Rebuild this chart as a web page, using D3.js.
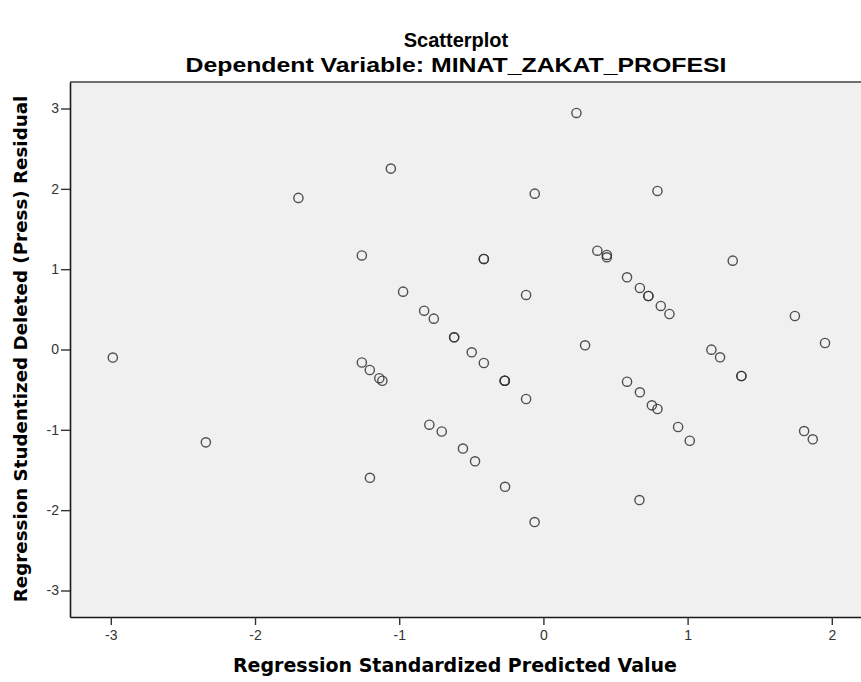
<!DOCTYPE html>
<html>
<head>
<meta charset="utf-8">
<script src="https://cdn.jsdelivr.net/npm/d3@7"></script>
<style>
  body { margin: 0; background: #fff; }
  svg { display: block; }
</style>
</head>
<body>
<div id="chart"></div>
<script>
// predicted (standardized) vs studentized deleted residual
const predicted = [
  -2.986, -2.341, -1.699, -1.058, -1.259, -0.973, -0.827, -0.760,
  -1.259, -1.204, -1.138, -1.117, -0.791, -0.705, -1.203, -0.558,
  -0.474, -0.266, -0.061, -0.060, 0.229, -0.413, -0.413, -0.120,
  0.289, -0.619, -0.619, -0.497, -0.413, -0.268, -0.268, -0.268,
  -0.120, 0.374, 0.440, 0.440, 0.580, 0.669, 0.728, 0.728,
  0.814, 0.874, 0.791, 1.313, 1.744, 1.953, 1.165, 1.225,
  1.373, 1.373, 0.580, 0.669, 0.752, 0.791, 0.934, 1.015,
  1.808, 1.868, 0.666
];
const residual = [
  -0.100, -1.156, 1.887, 2.252, 1.171, 0.720, 0.483, 0.384,
  -0.162, -0.255, -0.357, -0.389, -0.936, -1.021, -1.597, -1.233,
  -1.392, -1.709, -2.148, 1.940, 2.945, 1.127, 1.127, 0.679,
  0.052, 0.152, 0.152, -0.035, -0.168, -0.389, -0.389, -0.389,
  -0.616, 1.230, 1.177, 1.148, 0.899, 0.766, 0.666, 0.666,
  0.542, 0.442, 1.974, 1.106, 0.417, 0.081, -0.002, -0.097,
  -0.330, -0.330, -0.401, -0.533, -0.695, -0.741, -0.965, -1.136,
  -1.015, -1.118, -1.874
];
const xTicks = [-3, -2, -1, 0, 1, 2];
const yTicks = [-3, -2, -1, 0, 1, 2, 3];

const width = 861, height = 682;
const plotLeft = 70, plotRight = 862, plotTop = 82, plotBottom = 617;

const svg = d3.select("#chart").append("svg")
    .attr("width", width)
    .attr("height", height);

const x = d3.scaleLinear().domain([-3.283, 2.2]).range([plotLeft, plotLeft + (2.2 + 3.283) * 144.2]);
const y = d3.scaleLinear().domain([-3.33, 3.33]).range([plotBottom, plotTop]);

// plot background
svg.append("rect")
    .attr("x", plotLeft).attr("y", plotTop)
    .attr("width", plotRight - plotLeft).attr("height", plotBottom - plotTop)
    .attr("fill", "#f0f0f0");

// top frame line
svg.append("line")
    .attr("x1", plotLeft).attr("x2", plotRight)
    .attr("y1", plotTop).attr("y2", plotTop)
    .attr("stroke", "#6e6e6e").attr("stroke-width", 2);

let points = predicted.map((p, i) => ({px: p, r: residual[i]}));

svg.append("g").selectAll("circle")
    .data(points).enter()
    .append("circle")
    .attr("cx", d => x(d.px))
    .attr("cy", d => y(d.r))
    .attr("r", 4.6)
    .attr("fill", "none")
    .attr("stroke", "#333")
    .attr("stroke-opacity", 0.85)
    .attr("stroke-width", 1.4);

const fmt = d => String(d);

const yAxis = svg.append("g")
    .attr("transform", "translate(" + plotLeft + ",0)")
    .call(d3.axisLeft(y).tickValues(yTicks).tickSize(9).tickSizeOuter(0).tickPadding(2).tickFormat(fmt));

const xAxis = svg.append("g")
    .attr("transform", "translate(0," + plotBottom + ")")
    .call(d3.axisBottom(x).tickValues(xTicks).tickSize(8).tickSizeOuter(0).tickPadding(5).tickFormat(fmt));

[yAxis, xAxis].forEach(a => {
  a.select(".domain").attr("stroke", "#1a1a1a").attr("stroke-width", 1.6);
  a.selectAll(".tick line").attr("stroke", "#333").attr("stroke-width", 1.4);
  a.selectAll(".tick text")
    .attr("fill", "#333")
    .style("font-family", "'Liberation Sans', Arial, sans-serif")
    .style("font-size", "14px");
});

// titles
svg.append("text")
    .attr("x", 456).attr("y", 47)
    .attr("text-anchor", "middle")
    .style("font-family", "'Liberation Sans', Arial, sans-serif")
    .style("font-weight", "bold")
    .style("font-size", "20px")
    .text("Scatterplot");

svg.append("text")
    .attr("x", 456).attr("y", 72)
    .attr("text-anchor", "middle")
    .attr("textLength", 541)
    .attr("lengthAdjust", "spacingAndGlyphs")
    .style("font-family", "'Liberation Sans', Arial, sans-serif")
    .style("font-weight", "bold")
    .style("font-size", "20px")
    .text("Dependent Variable: MINAT_ZAKAT_PROFESI");

svg.append("text")
    .attr("x", 455).attr("y", 672)
    .attr("text-anchor", "middle")
    .style("font-family", "'DejaVu Sans', sans-serif")
    .style("font-weight", "bold")
    .style("font-size", "19px")
    .text("Regression Standardized Predicted Value");

svg.append("text")
    .attr("transform", "translate(27,349) rotate(-90)")
    .attr("text-anchor", "middle")
    .style("font-family", "'DejaVu Sans', sans-serif")
    .style("font-weight", "bold")
    .style("font-size", "18.3px")
    .text("Regression Studentized Deleted (Press) Residual");
</script>
</body>
</html>
